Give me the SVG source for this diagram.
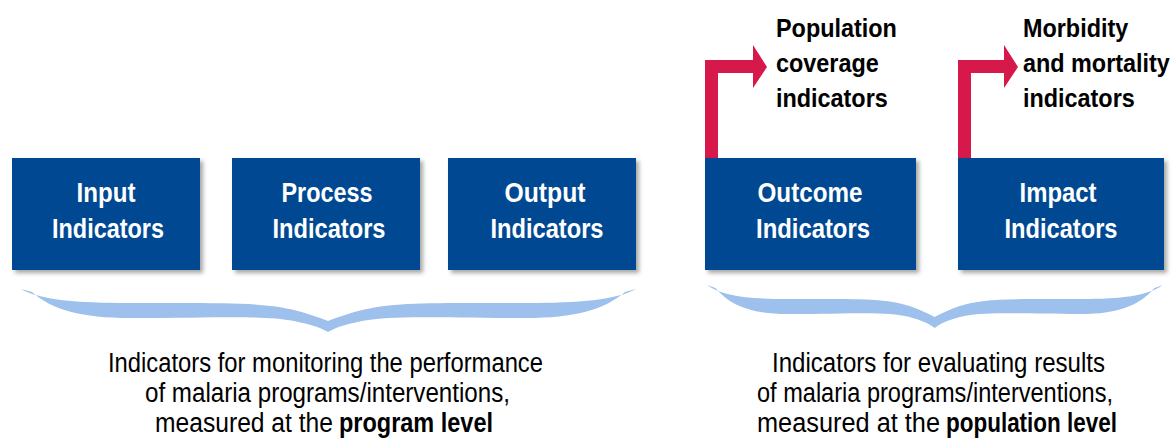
<svg xmlns="http://www.w3.org/2000/svg" width="1176" height="445" viewBox="0 0 1176 445">
<style>
.box{fill:#004A92;filter:url(#sh)}
.bt{font-family:"Liberation Sans",Arial,sans-serif;font-weight:bold;font-size:28px;fill:#fff;text-anchor:middle}
.lt{font-family:"Liberation Sans",Arial,sans-serif;font-weight:bold;font-size:26px;fill:#000}
.cap{font-family:"Liberation Sans",Arial,sans-serif;font-size:27px;fill:#000}
.brace{fill:#9DC0EC}
.arr{fill:#D7184B}
</style>
<defs>
<filter id="sh" x="-10%" y="-10%" width="125%" height="130%">
<feDropShadow dx="3" dy="3" stdDeviation="2" flood-color="#000" flood-opacity="0.35"/>
</filter>
<path id="bracePath" d="M21,289 C40,300 76,303 130,303 C220,303 262,302 294,310 C310,314 320,318 328,321 C336,318 346,314 362,310 C394,302 436,303 526,303 C580,303 616,300 636,289 L625,292 C604,310 574,318 526,318 C436,318 394,315 362,321 C347,324 337,327 328,332 C319,327 309,324 294,321 C262,315 220,318 130,318 C82,318 52,310 32,292 Z"/>
</defs>
<rect width="1176" height="445" fill="#fff"/>

<g id="connectors">
<path class="arr" d="M705,159 L705,60 L753,60 L753,45 L767,67 L753,88 L753,73 L718,73 L718,159 Z"/>
<path class="arr" d="M958,159 L958,60 L1004,60 L1004,45 L1018,67 L1004,88 L1004,73 L971,73 L971,159 Z"/>
</g>

<g id="node-input">
<rect class="box" x="12" y="158" width="188" height="112"/>
<text class="bt" x="106" y="202" textLength="59" lengthAdjust="spacingAndGlyphs">Input</text>
<text class="bt" x="108" y="238" textLength="112" lengthAdjust="spacingAndGlyphs">Indicators</text>
</g>
<g id="node-process">
<rect class="box" x="232" y="158" width="188" height="112"/>
<text class="bt" x="327" y="202" textLength="91" lengthAdjust="spacingAndGlyphs">Process</text>
<text class="bt" x="329" y="238" textLength="113" lengthAdjust="spacingAndGlyphs">Indicators</text>
</g>
<g id="node-output">
<rect class="box" x="448" y="158" width="188" height="112"/>
<text class="bt" x="545" y="202" textLength="81" lengthAdjust="spacingAndGlyphs">Output</text>
<text class="bt" x="547" y="238" textLength="113" lengthAdjust="spacingAndGlyphs">Indicators</text>
</g>
<g id="node-outcome">
<rect class="box" x="705" y="158" width="211" height="112"/>
<text class="bt" x="810" y="202" textLength="105" lengthAdjust="spacingAndGlyphs">Outcome</text>
<text class="bt" x="813" y="238" textLength="114" lengthAdjust="spacingAndGlyphs">Indicators</text>
</g>
<g id="node-impact">
<rect class="box" x="958" y="158" width="206" height="112"/>
<text class="bt" x="1058" y="202" textLength="77" lengthAdjust="spacingAndGlyphs">Impact</text>
<text class="bt" x="1061" y="238" textLength="113" lengthAdjust="spacingAndGlyphs">Indicators</text>
</g>

<g id="label-population" transform="translate(776,0) scale(0.9,1)">
<text class="lt" x="0" y="37">Population</text>
<text class="lt" x="0" y="72">coverage</text>
<text class="lt" x="0" y="107">indicators</text>
</g>
<g id="label-morbidity" transform="translate(1023,0) scale(0.9,1)">
<text class="lt" x="0" y="37">Morbidity</text>
<text class="lt" x="0" y="72">and mortality</text>
<text class="lt" x="0" y="107">indicators</text>
</g>

<g id="brace-left">
<use href="#bracePath" class="brace"/>
</g>
<g id="brace-right">
<use href="#bracePath" class="brace" transform="translate(935,-4) scale(0.7406,1) translate(-328.5,0)"/>
</g>

<g id="caption-left">
<text class="cap" x="108" y="372" textLength="435" lengthAdjust="spacingAndGlyphs">Indicators for monitoring the performance</text>
<text class="cap" x="145" y="402" textLength="365" lengthAdjust="spacingAndGlyphs">of malaria programs/interventions,</text>
<text class="cap" x="155" y="432" textLength="178" lengthAdjust="spacingAndGlyphs">measured at the</text>
<text class="cap" x="339" y="432" font-weight="bold" textLength="154" lengthAdjust="spacingAndGlyphs">program level</text>
</g>
<g id="caption-right">
<text class="cap" x="772" y="372" textLength="333" lengthAdjust="spacingAndGlyphs">Indicators for evaluating results</text>
<text class="cap" x="757" y="402" textLength="356" lengthAdjust="spacingAndGlyphs">of malaria programs/interventions,</text>
<text class="cap" x="757" y="432" textLength="183" lengthAdjust="spacingAndGlyphs">measured at the</text>
<text class="cap" x="946" y="432" font-weight="bold" textLength="171" lengthAdjust="spacingAndGlyphs">population level</text>
</g>
</svg>
